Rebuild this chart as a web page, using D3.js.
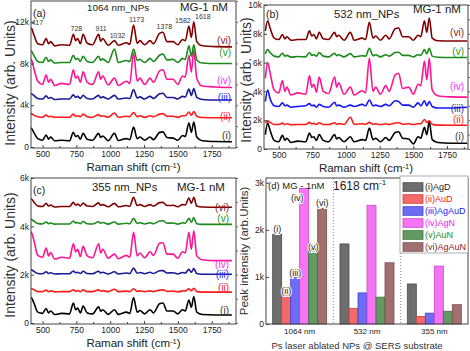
<!DOCTYPE html>
<html>
<head>
<meta charset="utf-8">
<script src="https://cdnjs.cloudflare.com/ajax/libs/d3/7.8.5/d3.min.js"></script>
<style>
body { margin: 0; background: #fff; }
svg { font-family: "Liberation Sans", Arial, sans-serif; }
</style>
</head>
<body>
<svg id="fig" width="470" height="351"></svg>
<script>
// Raman shift grid (cm-1), shared by all spectra
var shift = [400,417,435,465,500, 527,545,560,590,640, 700,728,745,760,780, 800,830,870,915,930,
             945,985,1032,1060,1120, 1145,1173,1200,1220,1255, 1295,1320,1365,1390,1420,
             1465,1500,1535,1555,1582, 1600,1618,1640,1680,1780, 1900];

// intensities in k counts, 1064 nm NPs
var s1064_i   = [1.1,1.8,1.4,0.8,0.65, 1.15,0.75,0.95,0.6,0.65, 0.6,1.4,1.0,1.1,0.75, 1.3,0.75,0.65,1.3,0.9, 1.05,0.6,1.3,0.62,0.8, 0.7,1.9,0.8,0.95,0.65, 0.95,0.7,1.4,1.45,0.9, 0.85,0.65,1.1,1.0,2.3, 1.4,2.4,0.95,0.6,0.52, 0.5];
var s1064_ii  = [3.0,3.2,3.05,2.9,2.85, 3.05,2.9,2.95,2.85,2.85, 2.85,3.15,2.95,3.0,2.9, 3.15,2.9,2.85,3.1,2.95, 3.0,2.85,3.25,2.85,2.95, 2.9,3.3,2.9,3.0,2.85, 3.0,2.9,3.15,3.2,2.95, 2.95,2.85,3.0,3.0,3.35, 3.05,3.4,2.95,2.82,2.8, 2.8];
var s1064_iii = [4.8,5.1,4.95,4.65,4.6, 4.9,4.65,4.75,4.55,4.6, 4.6,5.0,4.75,4.85,4.65, 4.95,4.65,4.6,4.95,4.7, 4.8,4.6,4.95,4.6,4.7, 4.65,5.5,4.7,4.8,4.6, 4.85,4.65,5.1,5.15,4.75, 4.75,4.6,4.85,4.8,5.55, 4.95,5.6,4.75,4.55,4.5, 4.5];
var s1064_iv  = [7.0,8.4,7.6,6.3,6.0, 6.9,6.2,6.5,5.9,6.1, 6.0,7.4,6.6,6.8,6.2, 7.2,6.2,6.0,7.2,6.5, 6.8,5.95,6.6,5.9,6.3, 6.1,9.0,6.3,6.6,6.0, 6.6,6.2,7.3,7.4,6.5, 6.5,6.0,6.8,6.7,8.8, 7.2,9.3,6.6,5.85,5.75, 5.7];
var s1064_v   = [8.6,9.2,8.8,8.2,8.1, 8.6,8.2,8.35,8.05,8.1, 8.1,8.8,8.4,8.5,8.2, 8.7,8.2,8.1,8.7,8.3, 8.45,8.1,9.4,8.1,8.3, 8.2,9.4,8.3,8.4,8.1, 8.5,8.2,8.8,8.9,8.35, 8.4,8.1,8.5,8.4,9.7, 8.7,9.8,8.35,8.05,8.0, 8.0];
var s1064_vi  = [10.5,11.4,10.8,9.9,9.8, 10.4,9.9,10.1,9.7,9.8, 9.75,10.8,10.2,10.4,9.9, 10.8,9.95,9.8,10.8,10.15, 10.4,9.75,10.2,9.75,10.0, 9.85,11.7,9.95,10.2,9.8, 10.2,9.9,10.9,11.0,10.1, 10.1,9.8,10.3,10.2,11.6, 10.5,12.0,10.1,9.7,9.62, 9.6];

// 532 nm NPs
var s532_i   = [1.0,1.8,1.3,0.6,0.5, 0.95,0.6,0.75,0.45,0.55, 0.5,1.1,0.8,0.85,0.6, 1.0,0.6,0.5,1.0,0.7, 0.8,0.5,0.85,0.5,0.65, 0.6,1.45,0.65,0.75,0.5, 0.8,0.6,1.15,1.2,0.75, 0.7,0.35,0.85,0.75,1.5, 1.0,1.9,0.65,0.45,0.4, 0.4];
var s532_ii  = [1.8,1.95,1.85,1.7,1.7, 1.8,1.7,1.75,1.68,1.7, 1.7,1.85,1.75,1.78,1.7, 1.82,1.7,1.7,1.82,1.72, 1.76,1.7,2.2,1.72,1.75, 1.72,1.85,1.72,1.75,1.7, 1.75,1.7,1.8,1.82,1.72, 1.75,1.7,1.75,1.75,2.05, 1.85,1.95,1.72,1.66,1.65, 1.65];
var s532_iii = [3.3,4.1,3.5,3.0,2.95, 3.2,3.0,3.05,2.9,2.95, 3.0,3.15,3.0,3.05,2.9, 3.1,2.95,2.9,3.25,3.0, 3.05,2.9,3.05,2.95,3.1, 3.0,3.4,3.0,3.05,2.95, 3.1,3.0,3.35,3.3,3.05, 3.05,2.9,3.2,3.0,3.35, 3.0,3.3,2.95,2.85,2.85, 2.9];
var s532_iv  = [4.9,6.0,5.3,4.1,3.9, 4.75,4.0,4.3,3.75,3.9, 3.8,5.1,4.3,4.5,3.95, 5.0,4.0,3.85,5.0,4.3, 4.6,3.8,4.3,3.75,4.05, 3.9,6.3,4.0,4.3,3.8, 4.4,4.0,5.15,5.25,4.2, 4.3,3.8,4.5,4.4,6.1, 4.8,6.3,4.1,3.7,3.62, 3.6];
var s532_v   = [6.6,6.9,6.7,6.45,6.4, 6.65,6.45,6.5,6.38,6.42, 6.4,6.7,6.5,6.55,6.45, 6.7,6.45,6.4,6.65,6.48, 6.55,6.4,6.62,6.4,6.48, 6.45,7.0,6.48,6.55,6.4, 6.55,6.45,6.7,6.72,6.5, 6.5,6.4,6.55,6.5,6.9, 6.6,7.0,6.45,6.37,6.35, 6.35];
var s532_vi  = [8.2,8.9,8.4,7.7,7.6, 7.95,7.65,7.8,7.55,7.6, 7.6,8.2,7.85,7.95,7.65, 8.1,7.65,7.6,8.1,7.8, 7.9,7.55,8.1,7.55,7.7, 7.6,8.8,7.7,7.85,7.55, 7.9,7.65,8.35,8.4,7.8, 7.8,7.55,7.9,7.8,8.9, 8.1,9.1,7.7,7.52,7.5, 7.5];

// 355 nm NPs
var s355_i   = [0.7,1.05,0.85,0.45,0.4, 0.6,0.42,0.5,0.35,0.4, 0.38,0.83,0.55,0.62,0.42, 0.7,0.42,0.38,0.67,0.48, 0.55,0.36,0.55,0.36,0.45, 0.4,1.05,0.45,0.52,0.38, 0.55,0.42,0.8,0.83,0.5, 0.5,0.38,0.55,0.5,0.95, 0.65,1.1,0.45,0.35,0.33, 0.33];
var s355_ii  = [1.36,1.43,1.38,1.3,1.3, 1.36,1.3,1.33,1.29,1.3, 1.3,1.38,1.32,1.34,1.3, 1.37,1.3,1.3,1.37,1.32, 1.34,1.3,1.4,1.3,1.32, 1.3,1.42,1.31,1.33,1.3, 1.33,1.3,1.36,1.37,1.31, 1.32,1.29,1.33,1.32,1.42, 1.34,1.44,1.3,1.28,1.28, 1.28];
var s355_iii = [2.12,2.2,2.14,2.05,2.04, 2.12,2.05,2.08,2.03,2.04, 2.04,2.15,2.08,2.1,2.05, 2.14,2.05,2.04,2.14,2.07, 2.1,2.03,2.12,2.03,2.07, 2.05,2.27,2.06,2.09,2.04, 2.1,2.05,2.16,2.17,2.07, 2.08,2.03,2.09,2.07,2.22, 2.1,2.25,2.05,2.02,2.02, 2.02];
var s355_iv  = [3.2,3.75,3.45,2.8,2.72, 3.1,2.78,2.92,2.65,2.72, 2.68,3.28,2.95,3.05,2.75, 3.17,2.78,2.7,3.28,2.9, 3.05,2.68,2.85,2.66,2.8, 2.72,3.75,2.78,2.9,2.7, 2.95,2.8,3.3,3.32,2.85, 2.85,2.68,2.95,2.9,3.75, 3.05,3.82,2.78,2.62,2.58, 2.58];
var s355_v   = [4.2,4.29,4.22,4.12,4.1, 4.18,4.11,4.14,4.09,4.1, 4.1,4.22,4.14,4.16,4.11, 4.2,4.11,4.1,4.19,4.13, 4.16,4.09,4.18,4.09,4.13, 4.11,4.33,4.12,4.15,4.1, 4.15,4.11,4.22,4.23,4.13, 4.14,4.09,4.15,4.13,4.33, 4.17,4.36,4.11,4.08,4.08, 4.08];
var s355_vi  = [5.0,5.13,5.02,4.84,4.82, 4.95,4.84,4.88,4.8,4.82, 4.82,4.99,4.88,4.92,4.84, 4.96,4.84,4.82,4.97,4.87, 4.9,4.81,4.95,4.81,4.86, 4.83,5.2,4.86,4.9,4.82, 4.9,4.84,4.98,4.99,4.86, 4.87,4.81,4.9,4.88,5.17, 4.95,5.2,4.84,4.8,4.79, 4.79];

var curveLabels = ["(i)", "(ii)", "(iii)", "(iv)", "(v)", "(vi)"];
var peakMarks = [417, 728, 911, 1032, 1173, 1378, 1582, 1618];
var shiftTicks = [500, 750, 1000, 1250, 1500, 1750];

// panel (d): peak intensity at 1618 cm-1
var groups = ["1064 nm", "532 nm", "355 nm"];
var samples = ["(i)AgD", "(ii)AuD", "(iii)AgAuD", "(iv)AgN", "(v)AuN", "(vi)AgAuN"];
var peak1064 = [1900, 700, 1080, 2880, 1600, 2450];
var peak532  = [1700, 330, 660, 2520, 570, 1300];
var peak355  = [850, 160, 230, 1230, 270, 410];

var svg = d3.select("#fig");
var fmtK = function(d) { return d === 0 ? "0" : (d >= 1000 ? d / 1000 : d) + "k"; };

var lineColors = ["#000000", "#ff1a1a", "#1a1a96", "#ff1493", "#1a8a1a", "#800000"];
var textColors = ["#333333", "#ff2a2a", "#2a2aff", "#ff30ff", "#1c9a1c", "#8b2323"];

var panels = [
  {tag: "(a)", title: "1064 nm_NPs", titleX: 87, titleSize: 9.8, titleY: 11, mgX: 180, mgY: 11, tagY: 17,
   series: [s1064_i, s1064_ii, s1064_iii, s1064_iv, s1064_v, s1064_vi],
   x0: 31, x1: 236, y0: 1, y1: 148, xdom: [415, 1930], ydom: [-0.1, 14], yticks: [0, 4, 8, 12],
   labY: [1.06, 2.88, 4.7, 6.33, 9.05, 10.25], labX: 231, ylabX: 10, ylabY: 83, peaks: true},
  {tag: "(b)", title: "532 nm_NPs", titleX: 334, titleSize: 11.3, titleY: 18, mgX: 413, mgY: 13, tagY: 18,
   series: [s532_i, s532_ii, s532_iii, s532_iv, s532_v, s532_vi],
   x0: 264, x1: 468, y0: 5, y1: 149, xdom: [390, 1906], ydom: [0, 10], yticks: [0, 2, 4, 6, 8, 10],
   labY: [0.9, 2.07, 2.83, 4.34, 6.76, 8.07], labX: 464, ylabX: 246, ylabY: 80, blue: "#1414ff"},
  {tag: "(c)", title: "355 nm_NPs", titleX: 92, titleSize: 11.3, titleY: 191, mgX: 177, mgY: 191, tagY: 194,
   series: [s355_i, s355_ii, s355_iii, s355_iv, s355_v, s355_vi],
   x0: 31, x1: 236, y0: 178, y1: 324, xdom: [415, 1930], ydom: [-0.04, 6], yticks: [0, 2, 4, 6],
   labY: [0.5, 1.49, 2.02, 2.44, 4.34, 4.79], labX: 229, ylabX: 10, ylabY: 255}
];

panels.forEach(function(p, pi) {
  var g = svg.append("g");
  var x = d3.scaleLinear().domain(p.xdom).range([p.x0, p.x1]);
  var y = d3.scaleLinear().domain(p.ydom).range([p.y1, p.y0]);

  g.append("clipPath").attr("id", "clip" + pi)
    .append("rect").attr("x", p.x0).attr("y", p.y0)
    .attr("width", p.x1 - p.x0).attr("height", p.y1 - p.y0);

  var line = d3.line()
    .curve(d3.curveMonotoneX)
    .x(function(d) { return x(d[0]); })
    .y(function(d) { return y(d[1]); });

  p.series.forEach(function(s, i) {
    var pts = shift.map(function(v, k) { return [v, s[k]]; });
    g.append("path")
      .attr("clip-path", "url(#clip" + pi + ")")
      .attr("d", line(pts))
      .attr("fill", "none")
      .attr("stroke", (i === 2 && p.blue) ? p.blue : lineColors[i])
      .attr("stroke-width", 1.6)
      .attr("stroke-linejoin", "round");

    g.append("text")
      .attr("x", p.labX).attr("y", y(p.labY[i])).attr("dy", "0.35em")
      .attr("text-anchor", "end")
      .attr("font-size", 10)
      .attr("fill", (i === 2 && p.blue) ? "#3030a0" : textColors[i])
      .text(curveLabels[i]);
  });

  // frame
  g.append("rect").attr("x", p.x0).attr("y", p.y0)
    .attr("width", p.x1 - p.x0).attr("height", p.y1 - p.y0)
    .attr("fill", "none").attr("stroke", "#444").attr("stroke-width", 1);

  var yAxis = g.append("g").attr("transform", "translate(" + p.x0 + ",0)")
    .call(d3.axisLeft(y).tickValues(p.yticks).tickSize(-3).tickPadding(2).tickFormat(fmtK));
  yAxis.select(".domain").remove();
  yAxis.selectAll("text").attr("font-size", 8.5).attr("fill", "#222");
  yAxis.selectAll("line").attr("stroke", "#444");

  var yRight = g.append("g").attr("transform", "translate(" + p.x1 + ",0)")
    .call(d3.axisRight(y).ticks(p.yticks.length * 2).tickSize(2).tickFormat(""));
  yRight.select(".domain").remove();
  yRight.selectAll("line").attr("stroke", "#666");

  var xAxis = g.append("g").attr("transform", "translate(0," + p.y1 + ")")
    .call(d3.axisBottom(x).tickValues(shiftTicks).tickSize(-3).tickPadding(3).tickFormat(d3.format("d")));
  xAxis.select(".domain").remove();
  xAxis.selectAll("text").attr("font-size", 8.5).attr("fill", "#222");
  xAxis.selectAll("line").attr("stroke", "#444");

  var xMinor = g.append("g").attr("transform", "translate(0," + p.y1 + ")")
    .call(d3.axisBottom(x).tickValues(shiftTicks.map(function(v) { return v + 125; }))
      .tickSize(-2).tickFormat(""));
  xMinor.select(".domain").remove();
  xMinor.selectAll("line").attr("stroke", "#444");

  // titles
  g.append("text").attr("x", p.x0 + 2).attr("y", p.tagY)
    .attr("font-size", 10.5).attr("fill", "#222").text(p.tag);
  g.append("text").attr("x", p.titleX).attr("y", p.titleY)
    .attr("font-size", p.titleSize).attr("fill", "#222").text(p.title);
  g.append("text").attr("x", p.mgX).attr("y", p.mgY)
    .attr("font-size", 11.5).attr("fill", "#222").text("MG-1 nM");

  var xt = g.append("text")
    .attr("x", (p.x0 + p.x1) / 2).attr("y", p.y1 + 23)
    .attr("text-anchor", "middle").attr("font-size", 11.5).attr("fill", "#222");
  xt.append("tspan").text("Raman shift (cm");
  xt.append("tspan").attr("dy", -3).attr("font-size", 7.5).text("-1");
  xt.append("tspan").attr("dy", 3).text(")");

  g.append("text")
    .attr("transform", "translate(" + p.ylabX + "," + p.ylabY + ") rotate(-90)")
    .attr("text-anchor", "middle").attr("dy", "0.35em")
    .attr("font-size", 14).attr("fill", "#333")
    .text("Intensity (arb. Units)");

  if (p.peaks) {
    var top = p.series[5];
    var nudge = {417: 6, 1582: -6, 1618: 9};
    peakMarks.forEach(function(m) {
      var k = d3.bisectLeft(shift, m);
      var a = shift[Math.max(0, k - 1)], b = shift[Math.min(k, shift.length - 1)];
      var nearest = (Math.abs(a - m) < Math.abs(b - m)) ? Math.max(0, k - 1) : k;
      g.append("text")
        .attr("x", x(m) + (nudge[m] !== undefined ? nudge[m] : 3))
        .attr("y", y(top[nearest]) - 3)
        .attr("text-anchor", "middle")
        .attr("font-size", 7).attr("fill", "#333")
        .text(m);
    });
  }
});

// ---- panel (d) bars ----
var barFill   = ["#6e6e6e", "#f46a6a", "#6c6cf4", "#f474f4", "#629a62", "#a26f6f"];
var barStroke = ["#4a4a4a", "#d04040", "#4040cc", "#cc44cc", "#3f6f3f", "#785050"];
var barText   = ["#222222", "#ee2222", "#2222ee", "#ee22ee", "#1a8a1a", "#8b2323"];

var d = {x0: 266, x1: 468, y0: 178, y1: 324};
var gd = svg.append("g");
var gx = d3.scaleBand().domain(groups).range([d.x0, d.x1]);
var sx = d3.scaleBand().domain(samples).range([0, gx.bandwidth()]).paddingOuter(0.74);
var yd = d3.scaleLinear().domain([0, 3100]).range([d.y1, d.y0]);
var peaks = [peak1064, peak532, peak355];

gd.selectAll("line.sep").data(groups.slice(1)).enter().append("line")
  .attr("x1", function(g) { return gx(g); }).attr("x2", function(g) { return gx(g); })
  .attr("y1", d.y0).attr("y2", d.y1)
  .attr("stroke", "#888").attr("stroke-dasharray", "1,2");

groups.forEach(function(grp, gi) {
  gd.selectAll("rect.b" + gi).data(peaks[gi]).enter().append("rect")
    .attr("x", function(v, i) { return gx(grp) + sx(samples[i]); })
    .attr("y", function(v) { return yd(v); })
    .attr("width", sx.bandwidth())
    .attr("height", function(v) { return yd(0) - yd(v); })
    .attr("fill", function(v, i) { return barFill[i]; })
    .attr("stroke", function(v, i) { return barStroke[i]; })
    .attr("stroke-width", 0.8);
});

// tags over the 1064 nm bars
peak1064.forEach(function(v, i) {
  var cx = gx(groups[0]) + sx(samples[i]) + sx.bandwidth() / 2;
  var ty = yd(v) - 3;
  if (i === 1 || i === 2) ty = yd(v) + 3;
  if (i === 3) { cx -= 7; ty = yd(v) + 13; }
  if (i === 4) ty = yd(v) + 1;
  gd.append("text").attr("x", cx).attr("y", ty)
    .attr("text-anchor", "middle").attr("font-size", 9).attr("fill", "#222")
    .attr("stroke", "#fff").attr("stroke-width", 2).attr("paint-order", "stroke")
    .text(curveLabels[i]);
});

gd.append("rect").attr("x", d.x0).attr("y", d.y0)
  .attr("width", d.x1 - d.x0).attr("height", d.y1 - d.y0)
  .attr("fill", "none").attr("stroke", "#444");

var ydAxis = gd.append("g").attr("transform", "translate(" + d.x0 + ",0)")
  .call(d3.axisLeft(yd).tickValues([0, 1000, 2000, 3000]).tickSize(-3).tickPadding(2).tickFormat(fmtK));
ydAxis.select(".domain").remove();
ydAxis.selectAll("text").attr("font-size", 8.5).attr("fill", "#222");
ydAxis.selectAll("line").attr("stroke", "#444");

var xdAxis = gd.append("g").attr("transform", "translate(0," + d.y1 + ")")
  .call(d3.axisBottom(gx).tickSize(0).tickPadding(4));
xdAxis.select(".domain").remove();
xdAxis.selectAll("text").attr("font-size", 8).attr("fill", "#222");

gd.append("text").attr("x", (d.x0 + d.x1) / 2 - 10).attr("y", 349)
  .attr("text-anchor", "middle").attr("font-size", 9.5).attr("fill", "#333")
  .text("Ps laser ablated NPs @ SERS substrate");

gd.append("text")
  .attr("transform", "translate(244," + (d.y0 + d.y1) / 2 + ") rotate(-90)")
  .attr("text-anchor", "middle").attr("dy", "0.35em")
  .attr("font-size", 11.5).attr("fill", "#333")
  .text("Peak intensity (arb.Units)");

gd.append("text").attr("x", 268).attr("y", 189)
  .attr("font-size", 9.5).attr("fill", "#222").text("(d) MG - 1nM");
var t18 = gd.append("text").attr("x", 333).attr("y", 190)
  .attr("font-size", 12).attr("fill", "#222");
t18.append("tspan").text("1618 cm");
t18.append("tspan").attr("dy", -5).attr("font-size", 8).text("-1");

// legend
var leg = gd.append("g");
leg.append("rect").attr("x", 400).attr("y", 176).attr("width", 68).attr("height", 77)
  .attr("fill", "#fff").attr("stroke", "#999").attr("stroke-width", 0.8);
var ly = d3.scalePoint().domain(samples).range([187, 247]);
samples.forEach(function(s, i) {
  leg.append("rect").attr("x", 403).attr("y", ly(s) - 4.3).attr("width", 20).attr("height", 8.6)
    .attr("fill", barFill[i]).attr("stroke", barStroke[i]).attr("stroke-width", 0.8);
  leg.append("text").attr("x", 425).attr("y", ly(s)).attr("dy", "0.35em")
    .attr("font-size", 9).attr("fill", barText[i]).text(s);
});
</script>
</body>
</html>
